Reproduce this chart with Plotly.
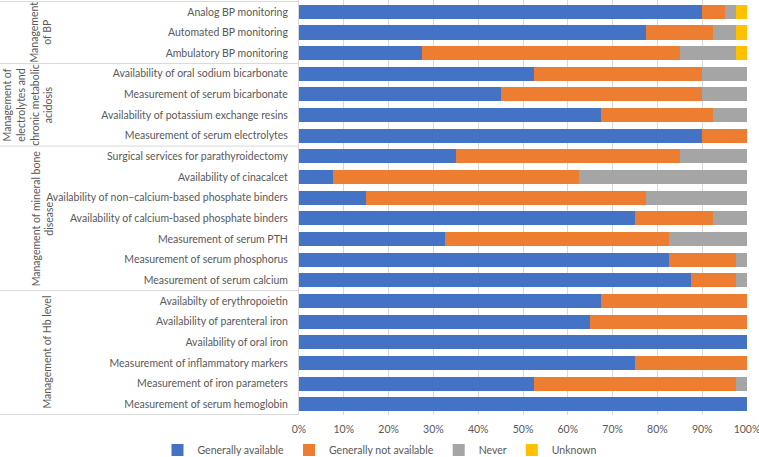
import plotly.graph_objects as go

categories = [
    "Analog BP monitoring",
    "Automated BP monitoring",
    "Ambulatory BP monitoring",
    "Availability of oral sodium bicarbonate",
    "Measurement of serum bicarbonate",
    "Availability of potassium exchange resins",
    "Measurement of serum electrolytes",
    "Surgical services for parathyroidectomy",
    "Availability of cinacalcet",
    "Availability of non\u2013calcium-based phosphate binders",
    "Availability of calcium-based phosphate binders",
    "Measurement of serum PTH",
    "Measurement of serum phosphorus",
    "Measurement of serum calcium",
    "Availabilty of erythropoietin",
    "Availability of parenteral iron",
    "Availability of oral iron",
    "Measurement of inflammatory markers",
    "Measurement of iron parameters",
    "Measurement of serum hemoglobin",
]

generally_available = [90, 77.5, 27.5, 52.5, 45, 67.5, 90, 35, 7.5, 15, 75, 32.5, 82.5, 87.5, 67.5, 65, 100, 75, 52.5, 100]
generally_not_available = [5, 15, 57.5, 37.5, 45, 25, 10, 50, 55, 62.5, 17.5, 50, 15, 10, 32.5, 35, 0, 25, 45, 0]
never = [2.5, 5, 12.5, 10, 10, 7.5, 0, 15, 37.5, 22.5, 7.5, 17.5, 2.5, 2.5, 0, 0, 0, 0, 2.5, 0]
unknown = [2.5, 2.5, 2.5, 0, 0, 0, 0, 0, 0, 0, 0, 0, 0, 0, 0, 0, 0, 0, 0, 0]

series_names = ["Generally available", "Generally not available", "Never", "Unknown"]
series_values = [generally_available, generally_not_available, never, unknown]
series_colors = ["#4472C4", "#ED7D31", "#A5A5A5", "#FFC000"]

groups = [
    ("Management<br>of BP", 0, 2, 40),
    ("Management of<br>electrolytes and<br>chronic metabolic<br>acidosis", 3, 6, 28),
    ("Management of mineral bone<br>disease", 7, 13, 43),
    ("Management of Hb level", 14, 19, 47),
]

x_ticks = [0, 10, 20, 30, 40, 50, 60, 70, 80, 90, 100]
x_tick_labels = [f"{t}%" for t in x_ticks]

FONT = "Lato"
TXT = "#595959"
L, R, T, B = 299, 12, 0, 42
W, H = 759, 457
plot_w = W - L - R

fig = go.Figure()
for name, vals, col in zip(series_names, series_values, series_colors):
    fig.add_trace(go.Bar(
        y=categories, x=vals, name=name, orientation="h",
        marker=dict(color=col, line=dict(width=0)),
        hoverinfo="x+y+name",
    ))

shapes = []
line_col = "#D9D9D9"
bounds = [-0.5, 2.5, 6.5, 13.5, 19.5]
for b in bounds:
    shapes.append(dict(type="line", xref="paper", yref="y",
                       x0=-L / plot_w, x1=0, y0=b, y1=b,
                       line=dict(color=line_col, width=1)))

annotations = []
for label, i0, i1, px in groups:
    annotations.append(dict(
        text=label, xref="paper", yref="y",
        x=(px - L) / plot_w, y=(i0 + i1) / 2,
        xanchor="center", yanchor="middle", textangle=-90,
        showarrow=False, font=dict(family=FONT, size=10.5, color=TXT),
    ))

fig.update_layout(
    width=W, height=H, autosize=False,
    margin=dict(l=L, r=R, t=T, b=B, pad=0, autoexpand=False),
    barmode="stack", bargap=0.32,
    plot_bgcolor="white", paper_bgcolor="white",
    font=dict(family=FONT, size=10.5, color=TXT),
    shapes=shapes, annotations=annotations,
    legend=dict(orientation="h", x=(380 - L) / plot_w, xanchor="center",
                y=-35 / (H - T - B), yanchor="middle",
                font=dict(family=FONT, size=10.5, color=TXT),
                itemwidth=30, traceorder="normal"),
    showlegend=True,
)
fig.update_xaxes(range=[0, 100.001], tickvals=x_ticks, ticktext=x_tick_labels,
                 showgrid=True, gridcolor=line_col, gridwidth=1,
                 zeroline=False, showline=False, ticks="", automargin=False,
                 ticklabeloverflow="allow", ticklabelstandoff=6,
                 tickfont=dict(family=FONT, size=10.5, color=TXT),
                 fixedrange=True)
fig.update_yaxes(categoryorder="array", categoryarray=categories,
                 autorange="reversed", showgrid=False, zeroline=False,
                 showline=True, linecolor=line_col, linewidth=1,
                 ticks="", ticklabelstandoff=8, automargin=False,
                 tickfont=dict(family=FONT, size=10.5, color=TXT),
                 fixedrange=True)

fig.write_html("out.html", config={"displayModeBar": False},
               post_script="document.body.style.margin='0';document.body.style.overflow='hidden';")
